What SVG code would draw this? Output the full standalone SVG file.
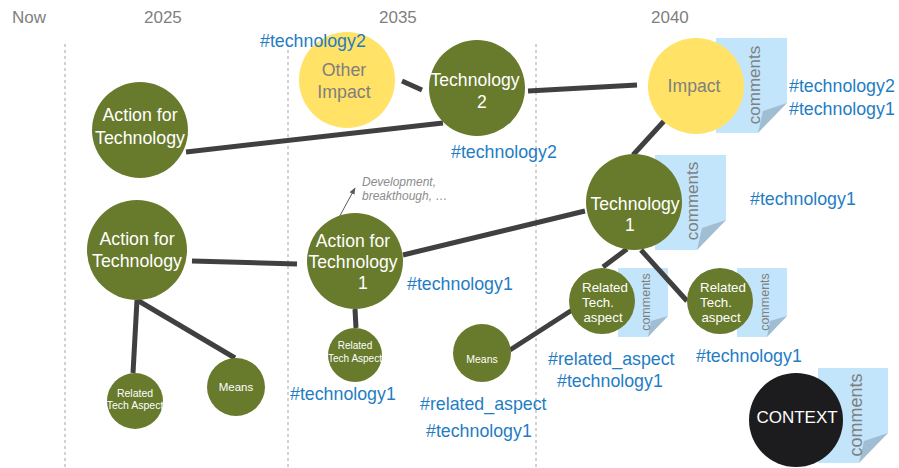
<svg xmlns="http://www.w3.org/2000/svg" width="899" height="468" viewBox="0 0 899 468">
<defs>
<style>
.hdr{font-family:"Liberation Sans",Arial,sans-serif;font-size:17px;fill:#7f7f7f}
.grid{stroke:#a6a6a6;stroke-width:1;stroke-dasharray:3,3}
.con{stroke:#404040;stroke-width:5;fill:none}
.green{fill:#687a2b}
.yellow{fill:#ffe266}
.dark{fill:#1c1c1e}
.wt{font-family:"Liberation Sans",Arial,sans-serif;fill:#ffffff;text-anchor:middle}
.gt{font-family:"Liberation Sans",Arial,sans-serif;fill:#7f7f7f;text-anchor:middle}
.tag{font-family:"Liberation Sans",Arial,sans-serif;font-size:17.8px;fill:#1f7dc4}
.note{fill:#c2e5fb}
.fold{fill:#a1bdd1}
.cm{font-family:"Liberation Sans",Arial,sans-serif;fill:#7f7f7f;text-anchor:middle}
.dev{font-family:"Liberation Sans",Arial,sans-serif;font-size:12px;font-style:italic;fill:#8c8c8c}
</style>
<marker id="ah" viewBox="0 0 10 10" refX="9" refY="5" markerWidth="7" markerHeight="7" orient="auto">
<path d="M0,1 L10,5 L0,9 Z" fill="#595959"/>
</marker>
</defs>

<g id="timeline">
<text class="hdr" x="12" y="23">Now</text>
<text class="hdr" x="144" y="23">2025</text>
<text class="hdr" x="379" y="23">2035</text>
<text class="hdr" x="651" y="23">2040</text>
<line class="grid" x1="65" y1="44" x2="65" y2="468"/>
<line class="grid" x1="288" y1="44" x2="288" y2="468"/>
<line class="grid" x1="536" y1="44" x2="536" y2="468"/>
</g>

<g id="notes">
<g id="note-impact" transform="translate(716,38)">
<path class="note" d="M0,0 H71 V65 Q55,78 42,95 H0 Z"/>
<path class="fold" d="M71,65 L47,73 L42,95 Z"/>
<text class="cm" font-size="17" transform="translate(44,47) rotate(-90)">comments</text>
</g>
<g id="note-tech1" transform="translate(655,155)">
<path class="note" d="M0,0 H71 V65 Q55,78 42,95 H0 Z"/>
<path class="fold" d="M71,65 L47,73 L42,95 Z"/>
<text class="cm" font-size="17" transform="translate(43,46) rotate(-90)">comments</text>
</g>
<g id="note-rel1" transform="translate(618,268)">
<path class="note" d="M0,0 H50 V48 Q39,58 30,69 H0 Z"/>
<path class="fold" d="M50,48 L33,53 L30,69 Z"/>
<text class="cm" font-size="12.5" transform="translate(32,34) rotate(-90)">comments</text>
</g>
<g id="note-rel2" transform="translate(737,268)">
<path class="note" d="M0,0 H50 V48 Q39,58 30,69 H0 Z"/>
<path class="fold" d="M50,48 L33,53 L30,69 Z"/>
<text class="cm" font-size="12.5" transform="translate(32,34) rotate(-90)">comments</text>
</g>
<g id="note-context" transform="translate(818,368)">
<path class="note" d="M0,0 H70 V65 Q54,78 41,95 H0 Z"/>
<path class="fold" d="M70,65 L46,73 L41,95 Z"/>
<text class="cm" font-size="18" transform="translate(44,47) rotate(-90)">comments</text>
</g>
</g>

<g id="connectors">
<line class="con" x1="186" y1="152" x2="443" y2="123"/>
<line class="con" x1="402" y1="81" x2="422" y2="90"/>
<line class="con" x1="528" y1="91" x2="637" y2="85"/>
<line class="con" x1="665" y1="120" x2="633" y2="155"/>
<line class="con" x1="192" y1="261" x2="297" y2="264"/>
<line class="con" x1="403" y1="255" x2="585" y2="211"/>
<line class="con" x1="355" y1="309" x2="356" y2="328"/>
<line class="con" x1="137" y1="300" x2="133" y2="373"/>
<line class="con" x1="137" y1="300" x2="235" y2="358"/>
<line class="con" x1="510" y1="350" x2="583" y2="303"/>
<line class="con" x1="627" y1="249" x2="603" y2="267"/>
<line class="con" x1="641" y1="250" x2="687" y2="301"/>
<line x1="330" y1="234" x2="355" y2="188" stroke="#595959" stroke-width="1" marker-end="url(#ah)"/>
</g>

<g id="n-action-top">
<circle class="green" cx="140" cy="130" r="48"/>
<text class="wt" font-size="17.8" x="140" y="121">Action for</text>
<text class="wt" font-size="17.8" x="140" y="144">Technology</text>
</g>

<g id="n-other-impact">
<circle class="yellow" cx="347" cy="80" r="48"/>
<text class="gt" font-size="17.8" x="344" y="76">Other</text>
<text class="gt" font-size="17.8" x="344" y="98">Impact</text>
</g>

<g id="n-tech2">
<circle class="green" cx="477" cy="88" r="48"/>
<text class="wt" font-size="17.6" x="475" y="86">Technology</text>
<text class="wt" font-size="17.6" x="482" y="108">2</text>
</g>

<g id="n-impact">
<circle class="yellow" cx="696" cy="86" r="48"/>
<text class="gt" font-size="17.6" x="694" y="92">Impact</text>
</g>

<g id="n-tech1">
<circle class="green" cx="634" cy="202" r="48"/>
<text class="wt" font-size="17.6" x="635" y="210">Technology</text>
<text class="wt" font-size="17.6" x="630" y="231">1</text>
</g>

<g id="n-action-left">
<circle class="green" cx="137" cy="250" r="50"/>
<text class="wt" font-size="17.8" x="137" y="245">Action for</text>
<text class="wt" font-size="17.8" x="137" y="267">Technology</text>
</g>

<g id="n-action-1">
<circle class="green" cx="355" cy="261" r="48"/>
<text class="wt" font-size="17.6" x="353" y="247">Action for</text>
<text class="wt" font-size="17.6" x="353" y="268">Technology</text>
<text class="wt" font-size="17.6" x="363" y="289">1</text>
</g>

<g id="n-related-left">
<circle class="green" cx="135" cy="401" r="28"/>
<text class="wt" font-size="10.5" x="135" y="397">Related</text>
<text class="wt" font-size="10.5" x="135" y="409">Tech Aspect</text>
</g>

<g id="n-means-left">
<circle class="green" cx="236" cy="387" r="29"/>
<text class="wt" font-size="11.5" x="236" y="391">Means</text>
</g>

<g id="n-related-mid">
<circle class="green" cx="355" cy="355" r="27"/>
<text class="wt" font-size="10" x="355" y="349">Related</text>
<text class="wt" font-size="10" x="355" y="362">Tech Aspect</text>
</g>

<g id="n-means-mid">
<circle class="green" cx="482" cy="353" r="29"/>
<text class="wt" font-size="10.5" x="482" y="363">Means</text>
</g>

<g id="n-related-a">
<circle class="green" cx="602" cy="301" r="33"/>
<text class="wt" font-size="13.3" x="605" y="292">Related</text>
<text class="wt" font-size="13.3" x="598" y="307">Tech.</text>
<text class="wt" font-size="13.3" x="603" y="322">aspect</text>
</g>

<g id="n-related-b">
<circle class="green" cx="720" cy="301" r="33"/>
<text class="wt" font-size="13.3" x="723" y="292">Related</text>
<text class="wt" font-size="13.3" x="716" y="307">Tech.</text>
<text class="wt" font-size="13.3" x="721" y="322">aspect</text>
</g>

<g id="n-context">
<circle class="dark" cx="796" cy="420" r="47"/>
<text class="wt" font-size="17" x="797" y="423">CONTEXT</text>
</g>

<g id="labels">
<text class="dev" x="362" y="186">Development,</text>
<text class="dev" x="362" y="200">breakthough, …</text>
<text class="tag" x="260" y="47">#technology2</text>
<text class="tag" x="451" y="158">#technology2</text>
<text class="tag" x="789" y="92">#technology2</text>
<text class="tag" x="789" y="115">#technology1</text>
<text class="tag" x="750" y="205">#technology1</text>
<text class="tag" x="407" y="290">#technology1</text>
<text class="tag" x="290" y="400">#technology1</text>
<text class="tag" x="420" y="410">#related_aspect</text>
<text class="tag" x="426" y="437">#technology1</text>
<text class="tag" x="548" y="365">#related_aspect</text>
<text class="tag" x="557" y="387">#technology1</text>
<text class="tag" x="696" y="362">#technology1</text>
</g>
</svg>
